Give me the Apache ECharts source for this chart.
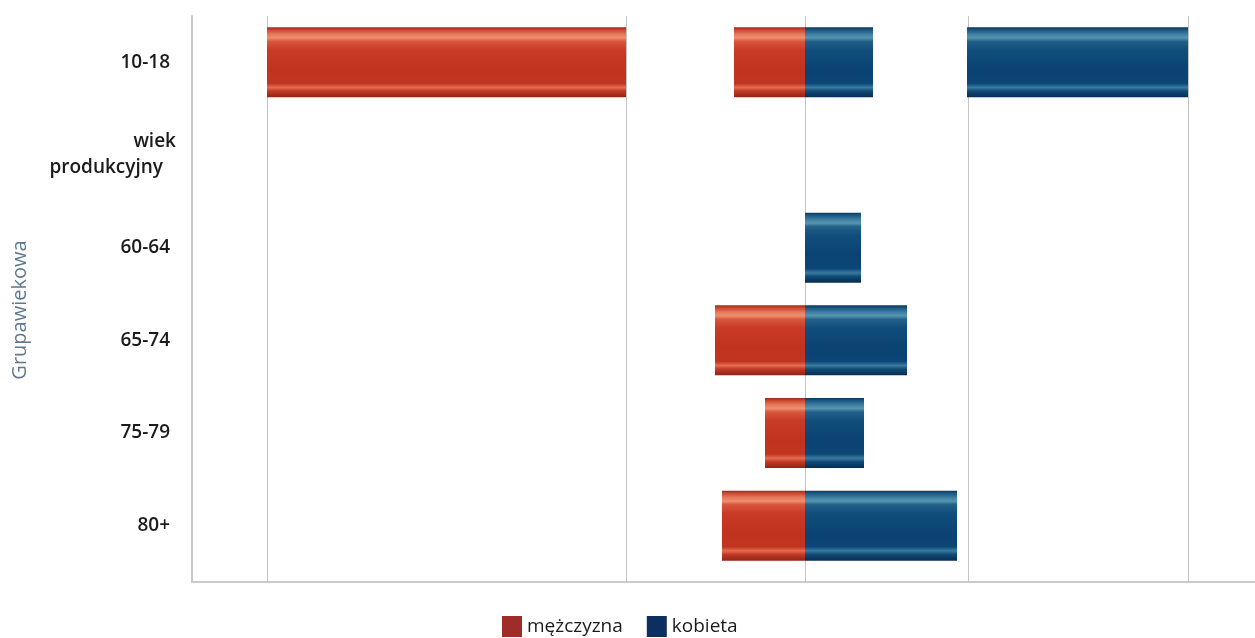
<!DOCTYPE html>
<html>
<head>
<meta charset="utf-8">
<script src="https://cdn.jsdelivr.net/npm/echarts@6/dist/echarts.min.js"></script>
<style>html,body{margin:0;padding:0;background:#fff}#c{width:1255px;height:638px}</style>
</head>
<body>
<div id="c"></div>
<script>
// ---- data ----
const categories = ['10-18', 'wiek produkcyjny', '60-64', '65-74', '75-79', '80+'];
const men   = [-7.1, null, null, -9.0, -4.0, -8.3];
const women = [6.8, null, 5.6, 10.2, 5.9, 15.2];
// detached outer segments (10-18 row)
const outerMenFrom   = [-17.9, null, null, null, null, null];
const outerMenTo     = [-53.8, null, null, null, null, null];
const outerWomenFrom = [16.2, null, null, null, null, null];
const outerWomenTo   = [38.3, null, null, null, null, null];
const gridValues = [-53.8, -17.9, 0, 16.3, 38.3];
const axisMin = -61.3, axisMax = 45.0;
const seriesNames = ['mężczyzna', 'kobieta'];

const spacerMen = men.map((v, i) => outerMenFrom[i] == null ? null : outerMenFrom[i] - (v || 0));
const spacerWomen = women.map((v, i) => outerWomenFrom[i] == null ? null : outerWomenFrom[i] - (v || 0));
const extraMen = outerMenFrom.map((v, i) => v == null ? null : +(outerMenTo[i] - v).toFixed(2));
const extraWomen = outerWomenFrom.map((v, i) => v == null ? null : +(outerWomenTo[i] - v).toFixed(2));

const grad = (stops) => new echarts.graphic.LinearGradient(0, 0, 0, 1, stops.map(s => ({offset: s[0], color: s[1]})));
const redFill = grad([[0,'#9c2a1b'],[0.04,'#cf4a33'],[0.1,'#e57a5e'],[0.15,'#ee8f70'],[0.2,'#d9563d'],[0.32,'#c93b27'],[0.6,'#c2331f'],[0.8,'#c03521'],[0.86,'#e46c51'],[0.91,'#c43925'],[1,'#8e2417']]);
const blueFill = grad([[0,'#0b375c'],[0.04,'#1c5a84'],[0.1,'#3f7fa2'],[0.15,'#5795b0'],[0.2,'#236189'],[0.32,'#114e7c'],[0.6,'#0b4373'],[0.8,'#0c4676'],[0.86,'#3a7b9f'],[0.91,'#104b78'],[1,'#072c50']]);

const barCommon = {type: 'bar', stack: 'p', barWidth: 70, xAxisIndex: 0, yAxisIndex: 0, z: 3, silent: true};

const chart = echarts.init(document.getElementById('c'));
chart.setOption({
  animation: false,
  grid: [
    {left: 192, right: 0, top: 16, height: 556},
    {left: 192, right: 0, top: 16, bottom: 56}
  ],
  xAxis: [
    {type: 'value', gridIndex: 0, min: axisMin, max: axisMax, show: false},
    {type: 'value', gridIndex: 1, min: axisMin, max: axisMax,
     axisLine: {show: true, onZero: false, lineStyle: {color: '#c9c9c9', width: 2}},
     axisTick: {show: false}, axisLabel: {show: false}, splitLine: {show: false}}
  ],
  yAxis: [
    {type: 'category', gridIndex: 0, data: categories, inverse: true,
     axisLine: {show: false}, axisTick: {show: false}, splitLine: {show: false},
     axisLabel: {
       margin: 16,
       formatter: (v) => v === 'wiek produkcyjny' ? '{w|wiek}\n{p|produkcyjny}' : '{n|' + v + '}',
       rich: {
         n: {fontFamily: 'Open Sans', fontSize: 19, fontWeight: 600, color: '#1b1b1b', padding: [0, 6, 0, 0]},
         w: {fontFamily: 'Open Sans', fontSize: 19, fontWeight: 600, color: '#1b1b1b', lineHeight: 26},
         p: {fontFamily: 'Open Sans', fontSize: 19, fontWeight: 600, color: '#1b1b1b', lineHeight: 26, padding: [0, 13, 0, 0]}
       }
     }},
    {type: 'value', gridIndex: 1, min: 0, max: 1,
     axisLine: {show: true, onZero: false, lineStyle: {color: '#c9c9c9', width: 2}},
     axisTick: {show: false}, axisLabel: {show: false}, splitLine: {show: false},
     name: 'Grupawiekowa', nameLocation: 'middle', nameGap: 162, nameRotate: 90,
     nameTextStyle: {fontFamily: 'Open Sans', fontSize: 20, color: '#5f7890', padding: [0, 22, 0, 0]}}
  ],
  legend: {
    left: 497, top: 611, itemWidth: 20, itemHeight: 21, itemGap: 24, icon: 'rect',
    textStyle: {fontFamily: 'Open Sans', fontSize: 19, color: '#1b1b1b'},
    data: [
      {name: seriesNames[0], itemStyle: {color: '#a02c27'}},
      {name: seriesNames[1], itemStyle: {color: '#0c2f5f'}}
    ]
  },
  series: [
    {type: 'line', xAxisIndex: 1, yAxisIndex: 1, data: [], silent: true, z: 1,
     markLine: {silent: true, z: 1, symbol: ['none', 'none'], label: {show: false},
       lineStyle: {color: '#c4c4c4', type: 'solid', width: 1},
       data: gridValues.map(v => ({xAxis: v}))}},
    Object.assign({name: seriesNames[0], data: men, itemStyle: {color: redFill}}, barCommon),
    Object.assign({name: seriesNames[1], data: women, itemStyle: {color: blueFill}}, barCommon),
    Object.assign({name: 'spacerL', data: spacerMen, itemStyle: {color: 'rgba(0,0,0,0)'}}, barCommon),
    Object.assign({name: 'spacerR', data: spacerWomen, itemStyle: {color: 'rgba(0,0,0,0)'}}, barCommon),
    Object.assign({name: seriesNames[0], data: extraMen, itemStyle: {color: redFill}}, barCommon),
    Object.assign({name: seriesNames[1], data: extraWomen, itemStyle: {color: blueFill}}, barCommon)
  ]
});
</script>
</body>
</html>
